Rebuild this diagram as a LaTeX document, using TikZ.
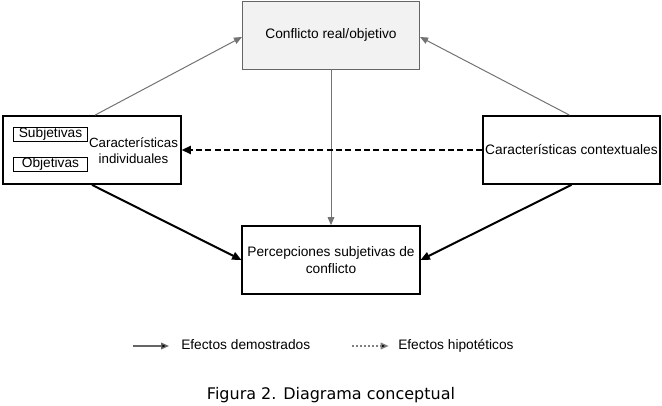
\documentclass[tikz,border=0pt]{standalone}
\usepackage{fontspec}
\setmainfont{Liberation Sans}
\newfontfamily\captionfont{DejaVu Sans}
\usetikzlibrary{arrows.meta}
\begin{document}
\begin{tikzpicture}[x=0.75pt, y=-0.75pt,
      every node/.style={font=\fontsize{10.3}{12.3}\selectfont},
      box/.style={rectangle, draw=black, line width=1.3pt, fill=white, minimum width=133pt, minimum height=51pt, inner sep=0pt},
      realbox/.style={box, draw=black!60, line width=0.6pt, fill=black!5},
      tag/.style={rectangle, draw=black, line width=0.6pt, minimum width=55pt, minimum height=10.5pt, inner sep=0pt, text height=7.4pt, text depth=2.2pt},
      label/.style={align=center, inner sep=0pt},
      light/.style={draw=black!55, line width=0.75pt, -{Triangle[length=6pt, width=5pt]}},
      strong/.style={draw=black, line width=1.5pt, -{Triangle[length=7pt, width=6pt]}},
      hypo/.style={strong, dashed, dash pattern=on 4.5pt off 2.5pt}
  ]
    \useasboundingbox (0,0) rectangle (662,406);

    \node[realbox] (conflicto) at (331,35) {Conflicto real/objetivo};
    \node[box] (individual) at (92,150) {};
    \node[box] (contextual) at (571.5,150) {Características contextuales};
    \node[box, label] (percep) at (331,260) {Percepciones subjetivas de\\conflicto};

    \node[tag] (subj) at (50.5,134) {Subjetivas};
    \node[tag] (obj) at (50.5,164) {Objetivas};
    \node[label, font=\fontsize{10}{12}\selectfont] (indtext) at (133.5,151) {Características\\individuales};

    \draw[light] (individual.north) ++(3,0) -- (conflicto.west |- 0,37);
    \draw[light] (contextual.north) ++(-2,0) -- (conflicto.east |- 0,37);
    \draw[light] (conflicto) -- (percep);
    \draw[hypo] (contextual) -- (individual);
    \draw[strong] (individual.south) -- (percep.west);
    \draw[strong] (contextual.south) -- (percep.east);

    % leyenda
    \coordinate (demstart) at (133,346);
    \coordinate (hipstart) at (352,346);
    \node[anchor=base west, inner sep=0pt] (dem) at (181,350) {Efectos demostrados};
    \node[anchor=base west, inner sep=0pt] (hip) at (398,350) {Efectos hipotéticos};
    \draw[draw=black!60, line width=1pt, -{Triangle[length=6pt, width=5pt, fill=black]}] (demstart) -- ([xshift=-9pt]dem.west |- demstart);
    \draw[draw=black!50, line width=1pt, dash pattern=on 1.5pt off 1.5pt, -{Triangle[length=6pt, width=5pt, fill=black]}] (hipstart) -- ([xshift=-7pt]hip.west |- hipstart);

    \node[font=\captionfont\fontsize{12}{14}\selectfont] (caption) at (331,395) {Figura 2. Diagrama conceptual};
  \end{tikzpicture}
\end{document}
